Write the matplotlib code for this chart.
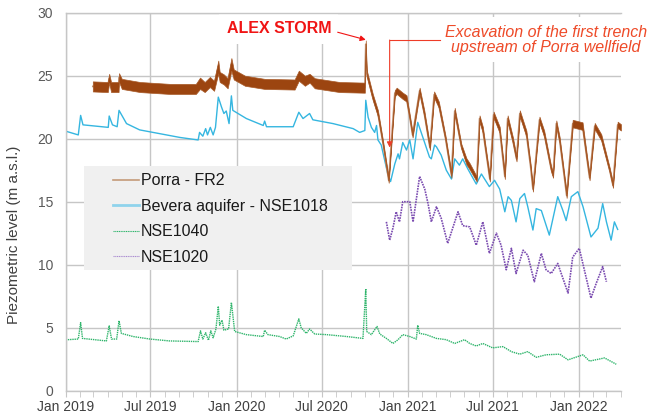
import matplotlib
matplotlib.use("Agg")
import matplotlib.pyplot as plt
import matplotlib.dates as mdates
from matplotlib.patches import Rectangle
import numpy as np
import pandas as pd

plt.rcParams["font.family"] = ["Liberation Sans", "DejaVu Sans"]

# Porra - FR2 (mid level and thickness of the noisy band)
porra_dates = ["2019-02-28", "2019-04-01", "2019-04-04", "2019-04-08", "2019-04-24", "2019-04-25",
               "2019-05-01", "2019-06-09", "2019-08-12", "2019-10-06", "2019-10-15", "2019-10-25",
               "2019-11-05", "2019-11-14", "2019-11-23", "2019-11-26", "2019-12-05", "2019-12-13",
               "2019-12-21", "2019-12-26", "2020-01-19", "2020-03-01", "2020-05-04", "2020-05-13",
               "2020-05-26", "2020-06-05", "2020-06-16", "2020-08-08", "2020-10-01", "2020-10-03",
               "2020-10-05", "2020-10-18", "2020-10-29", "2020-11-09", "2020-11-21", "2020-12-04",
               "2020-12-08", "2020-12-21", "2020-12-29", "2021-01-05", "2021-01-11", "2021-01-26",
               "2021-02-05", "2021-02-17", "2021-02-26", "2021-03-08", "2021-03-22", "2021-04-04",
               "2021-04-11", "2021-04-25", "2021-05-06", "2021-05-13", "2021-05-28", "2021-06-03",
               "2021-06-10", "2021-06-25", "2021-07-03", "2021-07-16", "2021-07-27", "2021-08-02",
               "2021-08-13", "2021-08-21", "2021-08-28", "2021-09-11", "2021-09-20", "2021-09-25",
               "2021-10-09", "2021-10-19", "2021-11-03", "2021-11-07", "2021-11-14", "2021-11-21",
               "2021-12-02", "2021-12-06", "2021-12-19", "2022-01-09", "2022-01-17", "2022-01-24",
               "2022-02-04", "2022-02-18", "2022-03-08", "2022-03-15", "2022-03-25", "2022-04-01"]
porra_level = [24.15, 24.1, 24.8, 24.1, 24.1, 24.85,
               24.35, 24.1, 23.95, 23.95, 24.4, 24.1,
               24.5, 24.2, 25.7, 24.9, 24.7, 24.4,
               25.9, 25.1, 24.6, 24.35, 24.3, 25.0,
               24.6, 24.8, 24.4, 24.1, 24.05, 27.5,
               25.2, 23.3, 22.0, 19.6, 16.7, 23.6,
               23.8, 23.4, 23.2, 21.7, 20.3, 23.8,
               22.0, 19.3, 23.5, 22.7, 20.1, 17.1,
               22.2, 19.4, 18.2, 17.8, 16.8, 21.6,
               20.7, 16.8, 21.9, 20.7, 17.0, 21.6,
               19.9, 18.4, 22.0, 20.4, 17.8, 16.0,
               21.5, 20.4, 17.6, 17.1, 21.2, 19.9,
               16.7, 15.5, 21.2, 21.0, 18.8, 16.9,
               21.0, 20.1, 17.5, 16.3, 21.1, 20.9]
porra_spread = [0.8, 0.8, 0.7, 0.8, 0.8, 0.7,
                0.8, 0.8, 0.8, 0.8, 0.9, 0.8,
                0.8, 0.8, 1.0, 0.8, 0.8, 0.8,
                1.0, 0.8, 0.8, 0.8, 0.8, 0.8,
                0.8, 0.7, 0.8, 0.8, 0.8, 0.6,
                0.5, 0.5, 0.5, 0.4, 0.4, 0.5,
                0.5, 0.5, 0.5, 0.4, 0.4, 0.5,
                0.5, 0.4, 0.5, 0.5, 0.4, 0.4,
                0.5, 0.4, 0.5, 0.5, 0.4, 0.5,
                0.5, 0.4, 0.5, 0.5, 0.4, 0.5,
                0.5, 0.4, 0.5, 0.5, 0.4, 0.4,
                0.5, 0.5, 0.4, 0.4, 0.5, 0.5,
                0.4, 0.4, 0.6, 0.6, 0.5, 0.4,
                0.5, 0.5, 0.4, 0.4, 0.5, 0.5]

# Bevera aquifer - NSE1018
bevera_dates = ["2019-01-01", "2019-01-28", "2019-02-02", "2019-02-07", "2019-04-02", "2019-04-04",
                "2019-04-11", "2019-04-21", "2019-04-25", "2019-05-11", "2019-06-08", "2019-07-21",
                "2019-09-02", "2019-10-11", "2019-10-14", "2019-10-21", "2019-10-27", "2019-10-31",
                "2019-11-06", "2019-11-12", "2019-11-17", "2019-11-23", "2019-11-30", "2019-12-05",
                "2019-12-10", "2019-12-16", "2019-12-21", "2019-12-24", "2020-01-22", "2020-02-27",
                "2020-03-01", "2020-03-05", "2020-05-01", "2020-05-13", "2020-05-22", "2020-06-05",
                "2020-06-12", "2020-07-25", "2020-09-06", "2020-09-20", "2020-10-01", "2020-10-03",
                "2020-10-08", "2020-10-15", "2020-10-22", "2020-10-26", "2020-10-29", "2020-11-05",
                "2020-11-19", "2020-11-25", "2020-12-04", "2020-12-11", "2020-12-14", "2020-12-21",
                "2020-12-29", "2021-01-05", "2021-01-12", "2021-01-22", "2021-02-02", "2021-02-16",
                "2021-02-20", "2021-02-27", "2021-03-03", "2021-03-13", "2021-03-24", "2021-04-04",
                "2021-04-11", "2021-04-21", "2021-04-28", "2021-05-09", "2021-05-27", "2021-06-07",
                "2021-06-24", "2021-07-05", "2021-07-16", "2021-07-27", "2021-08-03", "2021-08-10",
                "2021-08-20", "2021-08-28", "2021-09-07", "2021-09-14", "2021-09-25", "2021-10-02",
                "2021-10-13", "2021-10-30", "2021-11-17", "2021-11-28", "2021-12-05", "2021-12-16",
                "2021-12-30", "2022-01-10", "2022-01-27", "2022-02-11", "2022-02-21", "2022-03-01",
                "2022-03-11", "2022-03-18", "2022-03-25"]
bevera_level = [20.6, 20.3, 21.85, 21.1, 20.9, 21.8,
                21.1, 20.95, 22.25, 21.2, 20.7, 20.4,
                20.1, 19.9, 20.5, 20.2, 20.8, 20.3,
                20.9, 20.3, 20.9, 23.3, 22.5, 22.0,
                22.2, 21.2, 23.4, 22.25, 21.6, 21.05,
                21.4, 20.95, 20.95, 22.1, 21.6, 22.0,
                21.5, 21.2, 20.8, 20.5, 20.65, 23.05,
                21.7, 20.9, 20.5, 21.05, 19.9, 19.5,
                17.2, 16.6, 18.0, 18.8, 18.4, 19.7,
                19.1, 19.9, 18.4, 21.3, 20.1, 18.55,
                18.4, 19.5, 19.35, 18.7, 17.5, 16.8,
                18.4, 17.9, 18.4, 17.6, 16.4, 17.2,
                16.2, 16.7, 16.0, 14.2, 15.4, 15.1,
                13.4, 15.25, 15.65, 14.6, 12.75, 14.45,
                14.3, 12.35, 15.4, 14.3, 13.5, 15.4,
                15.8, 14.6, 12.2, 12.9, 14.85, 13.4,
                11.95, 13.4, 12.8]

# NSE1040
nse1040_dates = ["2019-01-01", "2019-01-28", "2019-02-02", "2019-02-06", "2019-03-29", "2019-04-04",
                 "2019-04-09", "2019-04-20", "2019-04-25", "2019-04-30", "2019-05-25", "2019-06-30",
                 "2019-08-11", "2019-10-11", "2019-10-16", "2019-10-21", "2019-10-27", "2019-11-02",
                 "2019-11-07", "2019-11-12", "2019-11-18", "2019-11-23", "2019-11-26", "2019-12-01",
                 "2019-12-05", "2019-12-15", "2019-12-21", "2019-12-28", "2020-01-22", "2020-02-27",
                 "2020-03-01", "2020-03-08", "2020-04-02", "2020-04-16", "2020-05-01", "2020-05-13",
                 "2020-05-18", "2020-05-29", "2020-06-05", "2020-06-16", "2020-07-11", "2020-08-23",
                 "2020-09-27", "2020-10-03", "2020-10-05", "2020-10-15", "2020-10-27", "2020-11-02",
                 "2020-11-16", "2020-11-30", "2020-12-11", "2020-12-21", "2021-01-05", "2021-01-19",
                 "2021-01-22", "2021-01-26", "2021-02-09", "2021-03-03", "2021-03-24", "2021-04-11",
                 "2021-05-02", "2021-05-13", "2021-05-27", "2021-06-10", "2021-07-01", "2021-07-23",
                 "2021-08-10", "2021-08-28", "2021-09-14", "2021-10-02", "2021-10-23", "2021-11-21",
                 "2021-12-09", "2022-01-10", "2022-01-24", "2022-02-25", "2022-03-22"]
nse1040_level = [4.04, 4.1, 5.4, 4.15, 3.95, 5.15,
                 4.1, 4.1, 5.55, 4.55, 4.3, 4.1,
                 3.95, 3.9, 4.75, 4.1, 4.6, 4.0,
                 4.75, 4.2, 4.9, 6.7, 5.2, 5.6,
                 4.8, 4.9, 7.0, 4.7, 4.45, 4.3,
                 4.8, 4.45, 4.3, 4.1, 4.35, 5.7,
                 5.0, 4.55, 4.9, 4.5, 4.45, 4.3,
                 4.15, 8.1, 4.7, 4.45, 5.1, 4.5,
                 4.15, 3.75, 4.05, 4.45, 4.3, 4.1,
                 5.2, 4.55, 4.45, 4.15, 4.05, 3.75,
                 4.05, 3.75, 3.55, 3.75, 3.4, 3.5,
                 3.1, 2.9, 3.1, 2.65, 2.85, 2.9,
                 2.45, 2.85, 2.35, 2.6, 2.1]

# NSE1020
nse1020_dates = ["2020-11-16", "2020-11-23", "2020-11-30", "2020-12-07", "2020-12-14", "2020-12-21",
                 "2021-01-05", "2021-01-12", "2021-01-26", "2021-02-06", "2021-02-13", "2021-02-20",
                 "2021-03-03", "2021-03-13", "2021-03-27", "2021-04-04", "2021-04-18", "2021-04-28",
                 "2021-05-13", "2021-05-27", "2021-06-10", "2021-06-24", "2021-07-09", "2021-07-19",
                 "2021-07-30", "2021-08-10", "2021-08-20", "2021-09-04", "2021-09-14", "2021-09-28",
                 "2021-10-13", "2021-10-23", "2021-11-03", "2021-11-17", "2021-12-09", "2021-12-19",
                 "2022-01-02", "2022-01-27", "2022-02-07", "2022-02-21", "2022-03-01"]
nse1020_level = [13.4, 11.95, 12.9, 14.2, 13.4, 15.0,
                 15.0, 13.4, 17.0, 16.0, 14.85, 13.4,
                 14.6, 13.7, 11.7, 12.6, 14.2, 13.1,
                 13.0, 11.55, 13.4, 10.9, 12.5, 11.55,
                 9.6, 11.3, 9.3, 11.15, 10.75, 8.65,
                 10.9, 9.6, 9.3, 10.1, 7.75, 10.6,
                 11.3, 7.35, 8.5, 9.85, 8.65]

porra_dates = pd.to_datetime(porra_dates)
porra_level = np.array(porra_level)
porra_spread = np.array(porra_spread)

fig = plt.figure(figsize=(6.5, 4.18), dpi=100)
ax = fig.add_axes([0.101, 0.0653, 0.8543, 0.9043])

grid_c = "#c6c6c6"
ax.set_axisbelow(True)
ax.grid(True, color=grid_c, linewidth=1.0)

ax.fill_between(porra_dates, porra_level - porra_spread / 2, porra_level + porra_spread / 2,
                color="#9c4510", linewidth=0.5, edgecolor="#a85a28", zorder=2.2)
ax.plot(porra_dates, porra_level, color="#c09070", linewidth=1.2, label="Porra - FR2", zorder=2.1)
ax.plot(pd.to_datetime(bevera_dates), bevera_level, color="#35b6e0", linewidth=1.0,
        label="Bevera aquifer - NSE1018")
ax.plot(pd.to_datetime(nse1040_dates), nse1040_level, color="#2db46a", linewidth=1.0,
        linestyle=(0, (1, 0.6)), label="NSE1040")
ax.plot(pd.to_datetime(nse1020_dates), nse1020_level, color="#7a4bb0", linewidth=1.2,
        linestyle=(0, (1, 0.6)), label="NSE1020")

ax.set_xlim(pd.Timestamp("2019-01-01"), pd.Timestamp("2022-04-01"))
ax.set_ylim(0, 30)
ax.set_yticks(range(0, 31, 5))
ax.xaxis.set_major_locator(mdates.MonthLocator(bymonth=[1, 7]))
ax.xaxis.set_major_formatter(mdates.DateFormatter("%b %Y"))
ax.xaxis.set_minor_locator(mdates.MonthLocator())

ax.spines["right"].set_visible(False)
for s in ["left", "bottom", "top"]:
    ax.spines[s].set_color(grid_c)
    ax.spines[s].set_linewidth(1.0)
ax.tick_params(axis="y", length=0, pad=9, labelsize=10, labelcolor="#595959")
ax.tick_params(axis="x", which="both", length=4, color=grid_c, pad=3, labelsize=10,
               labelcolor="#404040")

ax.set_ylabel("Piezometric level (m a.s.l.)", fontsize=11, color="#404040")
ax.yaxis.set_label_coords(-0.081, 0.413)

# legend panel
ax.add_patch(Rectangle((0.033, 0.319), 0.483, 0.275, transform=ax.transAxes,
                       facecolor="#f0f0f0", edgecolor="none", zorder=1))
leg = ax.legend(loc="upper left", bbox_to_anchor=(0.0852, 0.575), frameon=False, fontsize=11.5,
                handlelength=1.6, handletextpad=0.15, labelspacing=0.66, borderpad=0,
                borderaxespad=0)
for t in leg.get_texts():
    t.set_color("#1a1a1a")
handles = leg.get_lines()
handles[0].set_color("#c49a78")
handles[0].set_linewidth(1.2)
handles[1].set_color("#8fd3ec")
handles[1].set_linewidth(2.0)
handles[2].set_linewidth(0.8)
handles[3].set_color("#a98ad0")
handles[3].set_linewidth(0.8)

# annotations
ax.text(0.384, 0.957, "ALEX STORM", transform=ax.transAxes, ha="center", va="center",
        fontsize=11.5, fontweight="bold", color="#f01414", zorder=2.4,
        bbox=dict(boxstyle="square,pad=0.45", facecolor="white", edgecolor="none"))
ax.annotate("", xy=(pd.Timestamp("2020-10-03"), 27.85), xytext=(pd.Timestamp("2020-08-04"), 28.45),
            arrowprops=dict(arrowstyle="-|>", color="#f01414", lw=0.8, mutation_scale=8,
                            shrinkA=0, shrinkB=0), zorder=4)

ax.text(0.865, 0.928, "Excavation of the first trench\nupstream of Porra wellfield",
        transform=ax.transAxes, ha="center", va="center", fontsize=11.5, style="italic",
        color="#ee4a28", linespacing=1.05, zorder=2.4,
        bbox=dict(boxstyle="square,pad=0.45", facecolor="white", edgecolor="none"))
ax.plot([pd.Timestamp("2021-03-10"), pd.Timestamp("2020-11-23")], [27.83, 27.83],
        color="#ee3c28", linewidth=0.8, zorder=4)
ax.annotate("", xy=(pd.Timestamp("2020-11-23"), 19.3), xytext=(pd.Timestamp("2020-11-23"), 27.83),
            arrowprops=dict(arrowstyle="-|>", color="#ee3c28", lw=0.8, mutation_scale=8,
                            shrinkA=0, shrinkB=0), zorder=4)

plt.savefig("out.png", dpi=100)
